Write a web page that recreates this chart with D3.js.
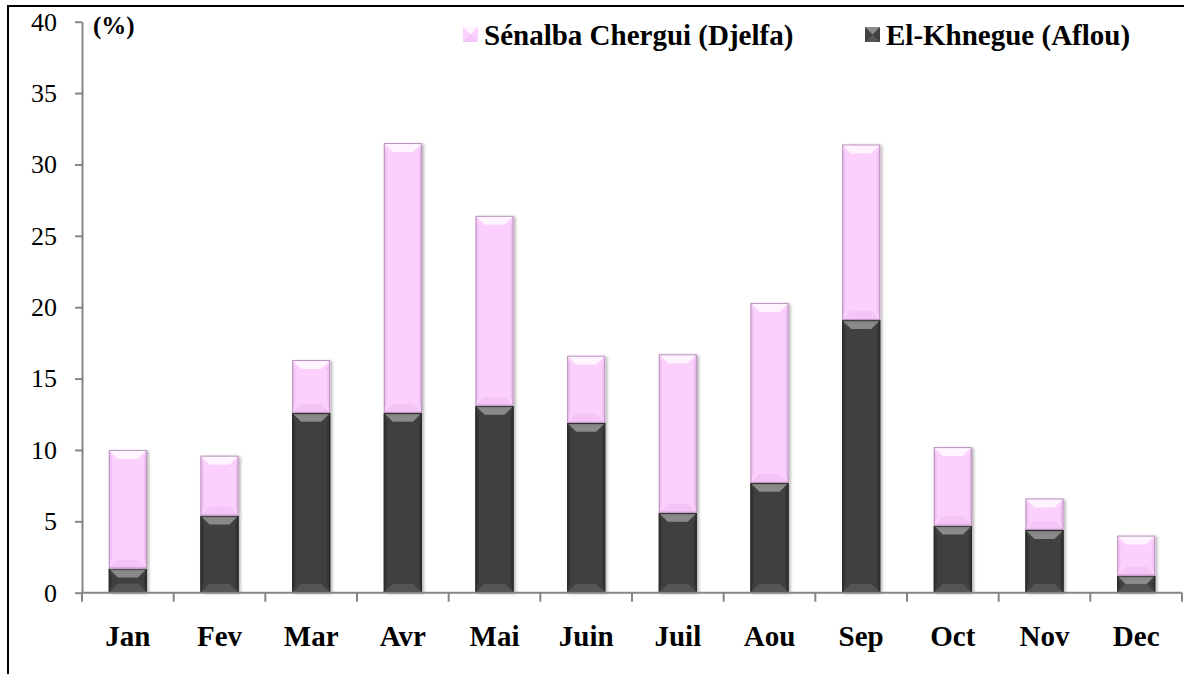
<!DOCTYPE html>
<html>
<head>
<meta charset="utf-8">
<script src="https://cdn.jsdelivr.net/npm/d3@7"></script>
<style>
  body { margin: 0; background: #fff; }
  svg { display: block; }
  text { font-family: "Liberation Serif", "Times New Roman", serif; }
</style>
</head>
<body>
<div id="vis"></div>
<script>
// data
const MONTHS = ["Jan", "Fev", "Mar", "Avr", "Mai", "Juin", "Juil", "Aou", "Sep", "Oct", "Nov", "Dec"];
const KHNEGUE = [1.7, 5.4, 12.6, 12.6, 13.1, 11.9, 5.6, 7.7, 19.1, 4.7, 4.4, 1.2];
const SENALBA = [8.3, 4.2, 3.7, 18.9, 13.3, 4.7, 11.1, 12.6, 12.3, 5.5, 2.2, 2.8];
const Y_TICKS = [0, 5, 10, 15, 20, 25, 30, 35, 40];

const FRAME_WIDTH = 1184;
const FRAME_HEIGHT = 674;
const MARGINS = {left: 82, right: 2, top: 21.7, bottom: 81.3};
const VIS_WIDTH = FRAME_WIDTH - MARGINS.left - MARGINS.right;
const VIS_HEIGHT = FRAME_HEIGHT - MARGINS.top - MARGINS.bottom;

const FRAME = d3.select("#vis")
                .append("svg")
                  .attr("width", FRAME_WIDTH)
                  .attr("height", FRAME_HEIGHT);

// outer border (runs off the right and bottom of the picture)
FRAME.append("rect")
     .attr("x", 8).attr("y", 6)
     .attr("width", 1200).attr("height", 700)
     .attr("fill", "none")
     .attr("stroke", "#000")
     .attr("stroke-width", 2);

const defs = FRAME.append("defs");
const shadow = defs.append("filter").attr("id", "shadow")
                   .attr("x", "-20%").attr("y", "-10%").attr("width", "150%").attr("height", "130%");
shadow.append("feDropShadow").attr("dx", 2).attr("dy", 1).attr("stdDeviation", 1.5)
      .attr("flood-color", "#000").attr("flood-opacity", 0.3);

const X_SCALE = d3.scaleBand()
                  .domain(MONTHS)
                  .range([0, VIS_WIDTH])
                  .paddingInner(0.585)
                  .paddingOuter(0.2925);

const Y_SCALE = d3.scaleLinear()
                  .domain([0, 40])
                  .range([VIS_HEIGHT, 0]);

const G = FRAME.append("g")
               .attr("transform", "translate(" + MARGINS.left + "," + MARGINS.top + ")");

// stacked segments
const rows = MONTHS.map((m, i) => ({month: m, khnegue: KHNEGUE[i], senalba: SENALBA[i]}));
const stack = d3.stack().keys(["khnegue", "senalba"])(rows);

const STYLES = {
  khnegue: {base: "#414141", top: "#8a8a8a", bottom: "#555555", side: "#333333", edge: "#2a2a2a"},
  senalba: {base: "#fbd0fd", top: "#fff4ff", bottom: "#f4c4f6", side: "#f0c0f2", edge: "#b894ba"}
};

stack.forEach((layer) => {
  const st = STYLES[layer.key];
  const lg = G.append("g").attr("class", "layer-" + layer.key);
  layer.forEach((d) => {
    const x0 = X_SCALE(d.data.month);
    const w = X_SCALE.bandwidth();
    const y0 = Y_SCALE(d[1]);
    const y1 = Y_SCALE(d[0]);
    const h = y1 - y0;
    const b = Math.min(9, h / 2);
    const seg = lg.append("g");
    seg.append("rect")
       .attr("x", x0).attr("y", y0)
       .attr("width", w).attr("height", h)
       .attr("fill", st.base)
       .attr("filter", "url(#shadow)");
    // side bevels
    seg.append("path")
       .attr("d", "M" + x0 + "," + y0 + "L" + (x0 + 3) + "," + (y0 + b) + "L" + (x0 + 3) + "," + (y1 - b) + "L" + x0 + "," + y1 + "Z")
       .attr("fill", st.side);
    seg.append("path")
       .attr("d", "M" + (x0 + w) + "," + y0 + "L" + (x0 + w - 3) + "," + (y0 + b) + "L" + (x0 + w - 3) + "," + (y1 - b) + "L" + (x0 + w) + "," + y1 + "Z")
       .attr("fill", st.side);
    // top bevel
    seg.append("path")
       .attr("d", "M" + x0 + "," + y0 + "L" + (x0 + w) + "," + y0 + "L" + (x0 + w - b) + "," + (y0 + b) + "L" + (x0 + b) + "," + (y0 + b) + "Z")
       .attr("fill", st.top);
    // bottom bevel
    seg.append("path")
       .attr("d", "M" + x0 + "," + y1 + "L" + (x0 + w) + "," + y1 + "L" + (x0 + w - b) + "," + (y1 - b) + "L" + (x0 + b) + "," + (y1 - b) + "Z")
       .attr("fill", st.bottom);
    seg.append("rect")
       .attr("x", x0 + 0.5).attr("y", y0 + 0.5)
       .attr("width", w - 1).attr("height", h - 1)
       .attr("fill", "none")
       .attr("stroke", st.edge)
       .attr("stroke-width", 1);
  });
});

// y axis
const yAxis = G.append("g")
               .call(d3.axisLeft(Y_SCALE).tickValues(Y_TICKS).tickSize(7).tickPadding(18).tickSizeOuter(0));
yAxis.attr("font-family", null);
yAxis.select(".domain").attr("stroke", "#868686").attr("stroke-width", 2);
yAxis.selectAll(".tick line").attr("stroke", "#868686").attr("stroke-width", 2);
yAxis.selectAll(".tick text")
     .attr("font-size", "26px")
     .attr("fill", "#000");

// x axis: ticks sit between categories
const xAxisG = G.append("g").attr("transform", "translate(0," + VIS_HEIGHT + ")");
xAxisG.append("line")
      .attr("x1", 0).attr("x2", VIS_WIDTH)
      .attr("stroke", "#868686").attr("stroke-width", 2);
const bounds = MONTHS.map((m) => X_SCALE(m) - X_SCALE.step() * X_SCALE.paddingOuter());
bounds.push(VIS_WIDTH);
xAxisG.selectAll(".sep")
      .data(bounds)
      .enter()
      .append("line")
        .attr("x1", (d) => d).attr("x2", (d) => d)
        .attr("y1", 0).attr("y2", 9)
        .attr("stroke", "#868686").attr("stroke-width", 2);
xAxisG.selectAll(".lbl")
      .data(MONTHS)
      .enter()
      .append("text")
        .attr("x", (d) => X_SCALE(d) + X_SCALE.bandwidth() / 2)
        .attr("y", 53)
        .attr("text-anchor", "middle")
        .attr("font-weight", "bold")
        .attr("font-size", "29px")
        .text((d) => d);

// unit label
FRAME.append("text")
     .attr("x", 93).attr("y", 34)
     .attr("font-weight", "bold")
     .attr("font-size", "25px")
     .text("(%)");

// legend
const LEGEND = [
  {label: "Sénalba Chergui (Djelfa)", key: "senalba", x: 463},
  {label: "El-Khnegue (Aflou)", key: "khnegue", x: 865}
];
LEGEND.forEach((l) => {
  const st = STYLES[l.key];
  const s = 15, lx = l.x, ly = 27;
  FRAME.append("rect").attr("x", lx).attr("y", ly).attr("width", s).attr("height", s).attr("fill", st.base);
  FRAME.append("path")
       .attr("d", "M" + lx + "," + ly + "L" + (lx + s) + "," + ly + "L" + (lx + s / 2) + "," + (ly + s / 2) + "Z")
       .attr("fill", st.top);
  FRAME.append("path")
       .attr("d", "M" + lx + "," + (ly + s) + "L" + (lx + s) + "," + (ly + s) + "L" + (lx + s / 2) + "," + (ly + s / 2) + "Z")
       .attr("fill", st.bottom);
  FRAME.append("text")
       .attr("x", lx + 21).attr("y", ly + 18)
       .attr("font-weight", "bold")
       .attr("font-size", "29px")
       .text(l.label);
});
</script>
</body>
</html>
